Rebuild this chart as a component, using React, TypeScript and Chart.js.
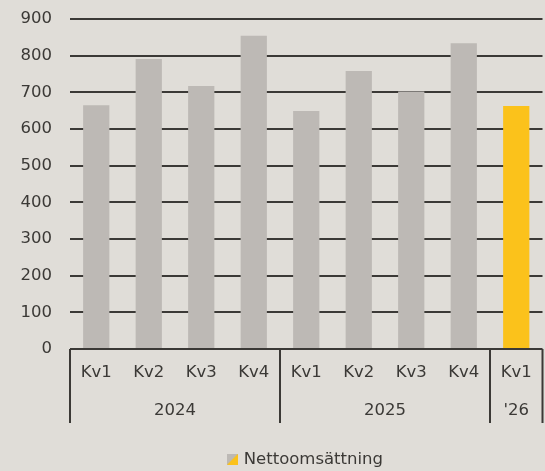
import { useEffect, useRef } from "react";
import { Chart, registerables } from "chart.js";

Chart.register(...registerables);

// ---- data ----
const quarters = ["Kv1", "Kv2", "Kv3", "Kv4", "Kv1", "Kv2", "Kv3", "Kv4", "Kv1"];
const years = ["2024", "2025", "'26"];
const yearSpans = [4, 4, 1];
const netSales = [665, 791, 717, 854, 649, 758, 702, 834, 663];
const seriesName = "Nettoomsättning";
const yMax = 900;
const yStep = 100;

// ---- styles ----
const BG = "#e0ddd8";
const GREY = "#bdb9b5";
const YELLOW = "#fbc21b";
const INK = "#3b3936";
const FONT = "'DejaVu Sans'";
const FONT_SIZE = 16.5;

function makeLegendSwatch(): HTMLCanvasElement {
  const c = document.createElement("canvas");
  c.width = 11;
  c.height = 11;
  const g = c.getContext("2d")!;
  g.fillStyle = GREY;
  g.fillRect(0, 0, 11, 11);
  g.fillStyle = YELLOW;
  g.beginPath();
  g.moveTo(11, 0);
  g.lineTo(11, 11);
  g.lineTo(0, 11);
  g.closePath();
  g.fill();
  return c;
}

const groupPlugin = {
  id: "yearGroups",
  afterDraw(chart: any) {
    const { ctx, chartArea } = chart;
    const x = chart.scales.x;
    const edges: number[] = [0];
    let acc = 0;
    yearSpans.forEach((s) => {
      acc += s;
      edges.push(acc);
    });
    ctx.save();
    ctx.strokeStyle = INK;
    ctx.lineWidth = 2;
    edges.forEach((i) => {
      const px = x.getPixelForValue(i - 0.5);
      ctx.beginPath();
      ctx.moveTo(px, chartArea.bottom);
      ctx.lineTo(px, chartArea.bottom + 74);
      ctx.stroke();
    });
    ctx.fillStyle = INK;
    ctx.font = `${FONT_SIZE}px ${FONT}`;
    ctx.textAlign = "center";
    ctx.textBaseline = "middle";
    years.forEach((yr, k) => {
      const a = x.getPixelForValue(edges[k] - 0.5);
      const b = x.getPixelForValue(edges[k + 1] - 0.5);
      ctx.fillText(yr, (a + b) / 2, chartArea.bottom + 62);
    });
    ctx.restore();
  },
};

export default function App() {
  const ref = useRef<HTMLCanvasElement | null>(null);

  useEffect(() => {
    if (!ref.current) return;
    const swatch = makeLegendSwatch();
    const colors = netSales.map((_, i) => (i >= netSales.length - yearSpans[yearSpans.length - 1] ? YELLOW : GREY));
    const chart = new Chart(ref.current, {
      type: "bar",
      data: {
        labels: quarters,
        datasets: [
          {
            label: seriesName,
            data: netSales,
            backgroundColor: colors,
            borderWidth: 0,
            barPercentage: 0.5,
            categoryPercentage: 1,
          },
        ],
      },
      options: {
        animation: false,
        responsive: false,
        maintainAspectRatio: false,
        devicePixelRatio: 1,
        layout: { padding: { top: 19, right: 2.5, left: 0, bottom: 0 } },
        scales: {
          x: {
            type: "category",
            grid: { display: false, drawTicks: false, tickLength: 0 },
            border: { display: false },
            ticks: {
              color: INK,
              font: { family: FONT, size: FONT_SIZE },
              padding: 14,
              maxRotation: 0,
              autoSkip: false,
            },
            afterFit: (s: any) => {
              s.height = 102;
              s.paddingLeft = 0;
              s.paddingRight = 0;
            },
          },
          y: {
            min: 0,
            max: yMax,
            grid: { color: INK, lineWidth: 2, drawTicks: false, tickLength: 0 },
            border: { display: false },
            ticks: {
              stepSize: yStep,
              color: INK,
              font: { family: FONT, size: FONT_SIZE },
              padding: 18,
            },
            afterFit: (s: any) => {
              s.width = 70;
              s.paddingTop = 0;
              s.paddingBottom = 0;
            },
          },
        },
        plugins: {
          tooltip: { enabled: false },
          legend: {
            position: "bottom",
            fullSize: false,
            maxHeight: 20,
            labels: {
              usePointStyle: true,
              pointStyleWidth: 6,
              padding: 0,
              color: INK,
              font: { family: FONT, size: FONT_SIZE },
              generateLabels: () => [
                {
                  text: seriesName,
                  pointStyle: swatch,
                  fillStyle: GREY,
                  strokeStyle: GREY,
                  lineWidth: 0,
                  hidden: false,
                  datasetIndex: 0,
                  fontColor: INK,
                } as any,
              ],
            },
          },
        },
      },
      plugins: [groupPlugin],
    });
    return () => chart.destroy();
  }, []);

  return (
    <div style={{ position: "fixed", left: 0, top: 0, width: 545, height: 471, background: BG }}>
      <canvas ref={ref} width={545} height={471} style={{ display: "block" }} />
    </div>
  );
}
